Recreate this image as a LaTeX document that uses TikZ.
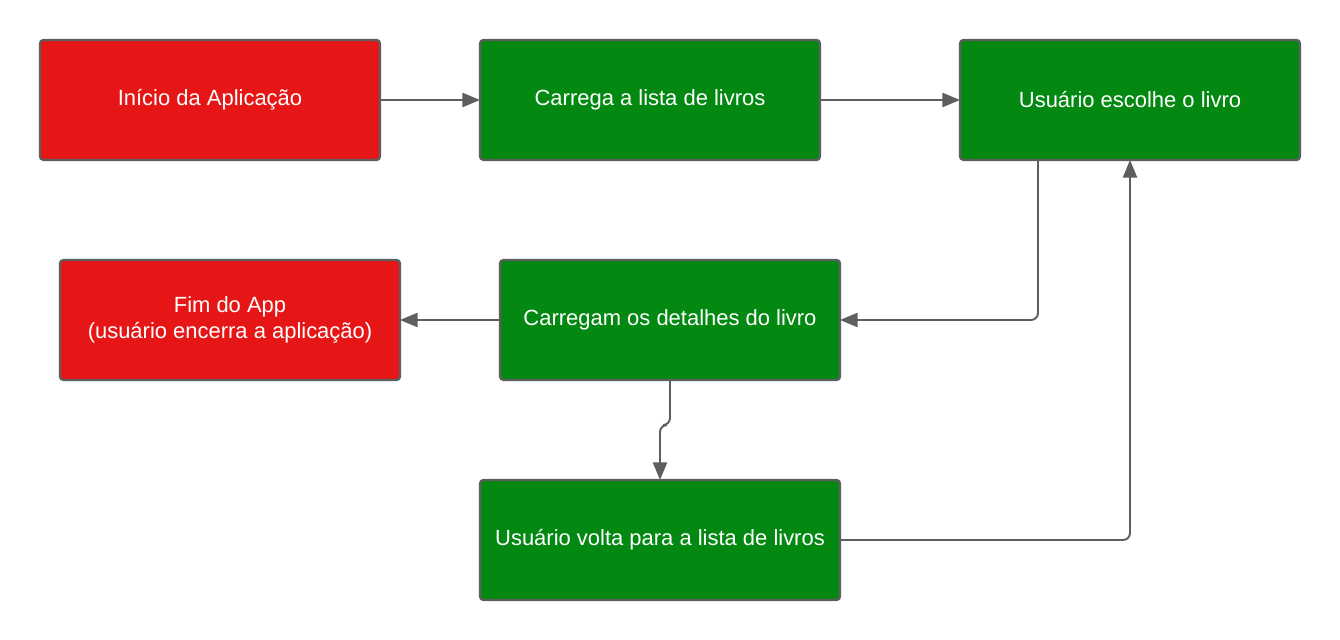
\documentclass[tikz,border=0pt]{standalone}
\usepackage{fontspec}
\setmainfont{Liberation Sans}
\usetikzlibrary{arrows.meta, positioning, calc}

\definecolor{startred}{RGB}{231,22,22}
\definecolor{stepgreen}{RGB}{3,137,18}
\definecolor{edgegray}{RGB}{94,94,94}

\begin{document}
\begin{tikzpicture}[
    >={Triangle[length=10pt, width=8pt]},
    font=\fontsize{12.5}{15}\selectfont,
    % Estilos de caixas
    redbox/.style={rectangle, rounded corners=2pt, draw=edgegray, fill=startred, line width=1.3pt, text=white, align=center, minimum width=6.8cm, minimum height=2.4cm, outer sep=0pt},
    greenbox/.style={rectangle, rounded corners=2pt, draw=edgegray, fill=stepgreen, line width=1.3pt, text=white, align=center, minimum width=6.8cm, minimum height=2.4cm, outer sep=0pt},
    flow/.style={->, draw=edgegray, line width=1.1pt, rounded corners=4pt}
]

% moldura da figura
\useasboundingbox (0,0) rectangle (26.8,-12.8);

% -------------------------
% LINHA DE CIMA
% -------------------------
\node[redbox] (inicio) at (4.2,-2.0) {Início da Aplicação};

\node[greenbox, right=2cm of inicio] (carrega) {Carrega a lista de livros};

\node[greenbox, right=2.8cm of carrega] (escolhe) {Usuário escolhe o livro};

% -------------------------
% DETALHES E FIM
% -------------------------
\node[greenbox, below=2cm of carrega, xshift=0.4cm] (detalhes) {Carregam os detalhes do livro};

\node[redbox, left=2cm of detalhes] (fim) {Fim do App\\(usuário encerra a aplicação)};

\node[greenbox, minimum width=7.2cm, below=2cm of detalhes, xshift=-0.2cm] (volta) {Usuário volta para a lista de livros};

% -------------------------
% CONEXÕES
% -------------------------
\draw[flow] (inicio) -- (carrega);
\draw[flow] (carrega) -- (escolhe);
\draw[flow] ($(escolhe.south west)+(1.56,0)$) |- (detalhes.east);
\draw[flow] (detalhes) -- (fim);
\draw[flow] (detalhes.south) -- ++(0,-0.9) -| (volta.north);
\draw[flow] (volta.east) -| (escolhe.south);

\end{tikzpicture}
\end{document}
